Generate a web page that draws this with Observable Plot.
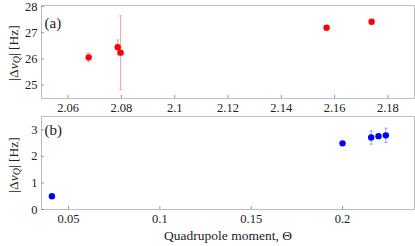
<!DOCTYPE html>
<html>
<head>
<meta charset="utf-8">
<script src="https://cdn.jsdelivr.net/npm/d3@7"></script>
<script src="https://cdn.jsdelivr.net/npm/@observablehq/plot@0.6"></script>
<style>
  body { margin: 0; background: #fff; }
  #chart { width: 415px; }
  #chart svg { display: block; }
</style>
</head>
<body>
<div id="chart"></div>
<script>
// Panel (a)
const aX = [2.0677, 2.0786, 2.0797, 2.157, 2.1739];
const aY = [26.06, 26.45, 26.24, 27.19, 27.42];
const aErr = [0.16, 0.27, 1.4, 0, 0];
const aXTicks = [2.06, 2.08, 2.10, 2.12, 2.14, 2.16, 2.18];
const aYTicks = [25, 26, 27, 28];

// Panel (b)
const bX = [0.0409, 0.2, 0.2157, 0.2197, 0.2237];
const bY = [0.5, 2.49, 2.71, 2.76, 2.79];
const bErr = [0, 0, 0.25, 0, 0.27];
const bXTicks = [0.05, 0.1, 0.15, 0.2];
const bYTicks = [0, 1, 2, 3];

const xLabel = "Quadrupole moment, Θ";
const FONT = "Liberation Serif";

const capSymbol = {
  draw(ctx, size) {
    const r = Math.sqrt(size / Math.PI);
    ctx.moveTo(-r, 0);
    ctx.lineTo(r, 0);
  }
};
const fmt = d => String(+d.toFixed(3));

function panel(o) {
  const rows = o.xs.map((x, i) => ({x, y: o.ys[i], e: o.errs[i]}));
  const er = rows.filter(d => d.e > 0);
  const marks = [
    Plot.frame({stroke: "#bdbdbd"}),
    Plot.axisX({ticks: o.xTicks, tickSize: 3, dy: -3, tickFormat: () => "", stroke: "#999", label: null}),
    Plot.axisY({ticks: o.yTicks, tickSize: 3, dx: 3, tickFormat: () => "", stroke: "#999", label: null}),
    Plot.axisX({ticks: o.xTicks, tickSize: 0, tickPadding: 5, tickFormat: fmt, fill: "#222", fontSize: 12.5, label: null}),
    Plot.axisY({ticks: o.yTicks, tickSize: 0, tickPadding: 4, tickFormat: fmt, fill: "#222", fontSize: 12.5, label: null}),
    Plot.ruleX(er, {x: "x", y1: d => d.y - d.e, y2: d => d.y + d.e, stroke: o.errColor, strokeWidth: 1}),
    Plot.dot(er, {x: "x", y: d => d.y + d.e, symbol: capSymbol, r: 1.6, stroke: o.errColor, strokeWidth: 1}),
    Plot.dot(er, {x: "x", y: d => d.y - d.e, symbol: capSymbol, r: 1.6, stroke: o.errColor, strokeWidth: 1}),
    Plot.dot(rows, {x: "x", y: "y", r: 3.2, fill: o.color, stroke: "none"}),
    Plot.text([o.tag], {frameAnchor: "top-left", text: d => d, dx: 3, dy: o.tagDy, fontSize: 15, fill: "#222", textAnchor: "start"})
  ];
  if (o.xTitle) {
    marks.push(Plot.text([o.xTitle], {frameAnchor: "bottom", text: d => d, dy: 30, fontSize: 13.5, fill: "#222"}));
  }
  const svg = Plot.plot({
    width: 415,
    height: o.height,
    marginLeft: 41,
    marginRight: 1,
    marginTop: o.mt,
    marginBottom: o.mb,
    style: {background: "#fff", overflow: "visible"},
    x: {domain: o.xDomain, axis: null},
    y: {domain: o.yDomain, axis: null},
    marks
  });
  // rotated y-axis title with italic nu and subscript Q
  const t = d3.select(svg).append("text")
    .attr("transform", `translate(15,${o.labelY}) rotate(-90)`)
    .attr("text-anchor", "middle")
    .attr("dominant-baseline", "middle")
    .attr("font-size", 13.5)
    .attr("fill", "#222");
  t.append("tspan").text("|Δ");
  t.append("tspan").attr("font-style", "italic").text("ν");
  t.append("tspan").attr("font-style", "italic").attr("font-size", 10).attr("dy", 3).text("Q");
  t.append("tspan").attr("dy", -3).text("| [Hz]");
  // serif font on every text element
  d3.select(svg).attr("font-family", FONT).style("font-family", FONT);
  d3.select(svg).selectAll("g").attr("font-family", FONT);
  d3.select(svg).selectAll("text, tspan").attr("font-family", FONT).style("font-family", FONT);
  return svg;
}

const chart = document.getElementById("chart");
chart.appendChild(panel({
  xs: aX, ys: aY, errs: aErr, color: "#ff0000", errColor: "#f7a0a0",
  xDomain: [2.05, 2.19], yDomain: [24.49, 28.04], xTicks: aXTicks, yTicks: aYTicks,
  tag: "(a)", tagDy: 12, height: 114, mt: 5, mb: 16, labelY: 53
}));
chart.appendChild(panel({
  xs: bX, ys: bY, errs: bErr, color: "#0000ff", errColor: "#9da0f7",
  xDomain: [0.0352, 0.2394], yDomain: [0, 3.5], xTicks: bXTicks, yTicks: bYTicks,
  tag: "(b)", tagDy: 8, height: 132, mt: 2, mb: 37, labelY: 51, xTitle: xLabel
}));
</script>
</body>
</html>
